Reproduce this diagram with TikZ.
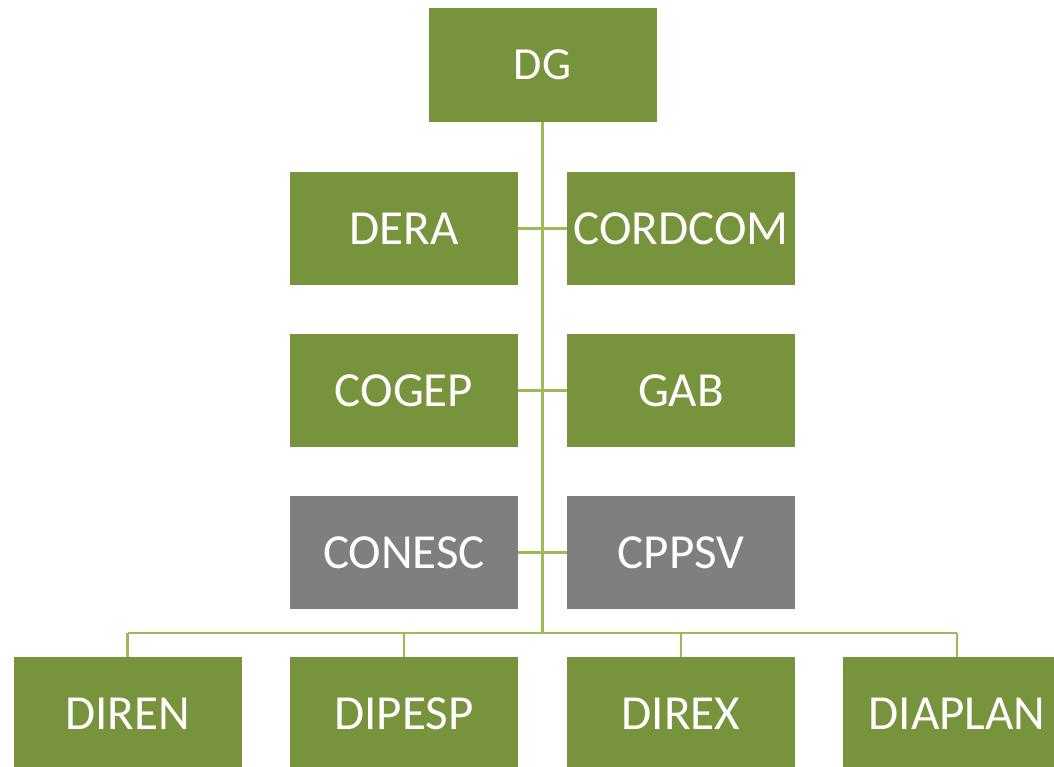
\documentclass[tikz,border=0pt]{standalone}
\usepackage{fontspec}
\setmainfont{Carlito}
\definecolor{boxgreen}{HTML}{77933C}
\definecolor{boxgray}{HTML}{7F7F7F}
\definecolor{linegreen}{HTML}{9BBB59}
\begin{document}
\begin{tikzpicture}[x=1pt,y=-1pt,
  unit/.style={rectangle, fill=boxgreen, minimum width=228pt, minimum height=113.5pt, inner sep=0pt, text=white, font=\fontsize{49}{52}\selectfont},
  grayunit/.style={unit, fill=boxgray},
  link/.style={draw=linegreen, line width=2.2pt}]
\useasboundingbox (0,0) rectangle (1054,766);
\clip (0,0) rectangle (1054,766);
\node[unit, font=\fontsize{46}{50}\selectfont] (dg) at (542.5,65) {DG};
\node[unit] (dera) at (404,228.5) {DERA};
\node[unit] (cordcom) at (681,228.5) {CORDCOM};
\node[unit] (cogep) at (404,390.5) {COGEP};
\node[unit] (gab) at (681,390.5) {GAB};
\node[grayunit] (conesc) at (404,552.5) {CONESC};
\node[grayunit] (cppsv) at (681,552.5) {CPPSV};
\node[unit] (diren) at (127.5,713.5) {DIREN};
\node[unit] (dipesp) at (404,713.5) {DIPESP};
\node[unit] (direx) at (681,713.5) {DIREX};
\node[unit] (diaplan) at (957,713.5) {DIAPLAN};
\coordinate (bus) at (542.5,633);
\coordinate (busl) at (127.5,633);
\coordinate (busr) at (957,633);
\draw[link] (dg.south) -- (bus);
\draw[link] (dera.east) -- (cordcom.west);
\draw[link] (cogep.east) -- (gab.west);
\draw[link] (conesc.east) -- (cppsv.west);
\draw[link] (busl) -- (busr);
\draw[link] (busl) -- (diren.north);
\draw[link] (dipesp.north |- bus) -- (dipesp.north);
\draw[link] (direx.north |- bus) -- (direx.north);
\draw[link] (busr) -- (diaplan.north);
\end{tikzpicture}
\end{document}
